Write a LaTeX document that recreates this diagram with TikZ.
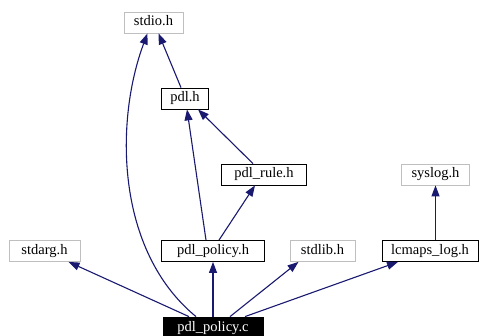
\documentclass[tikz,border=0pt]{standalone}
\usepackage{fontspec}
\setmainfont{Liberation Serif}
\usetikzlibrary{arrows.meta,positioning}
\definecolor{edgeblue}{HTML}{191970}
\definecolor{sysgray}{HTML}{BFBFBF}

\begin{document}
\begin{tikzpicture}[
  x=1pt,y=-1pt,
  font=\fontsize{14.5}{16}\selectfont,
  >={Triangle[length=11pt,width=8pt]},
  dep/.style={->,line width=1.1pt,draw=edgeblue},
  hdr/.style={draw=black,thick,fill=white,inner sep=0pt,
              minimum height=21pt,text height=10pt,text depth=3pt},
  syshdr/.style={hdr,draw=sysgray},
  src/.style={hdr,draw=black,fill=black,text=white}
]
\useasboundingbox (0,0) rectangle (481,336);
\node[syshdr,minimum width=59pt] (stdio) at (153.5,22.5) {stdio.h};
\node[hdr,minimum width=47pt] (pdl) at (185,98.5) {pdl.h};
\node[hdr,minimum width=85pt] (rule) at (264,174.5) {pdl\_rule.h};
\node[syshdr,minimum width=68pt] (syslog) at (435.5,174.5) {syslog.h};
\node[syshdr,minimum width=71pt] (stdarg) at (44.5,251) {stdarg.h};
\node[hdr,minimum width=103pt] (policyh) at (213,251) {pdl\_policy.h};
\node[syshdr,minimum width=65pt] (stdlib) at (322.5,251) {stdlib.h};
\node[hdr,minimum width=96pt] (lcmaps) at (430,251) {lcmaps\_log.h};
\node[src,minimum width=100pt] (policyc) at (213,327.5) {pdl\_policy.c};

\draw[dep] (policyc) -- (stdarg);
\draw[dep] (policyc) -- (policyh);
\draw[dep] ([xshift=17pt]policyc.north) -- ([xshift=-24pt]stdlib.south);
\draw[dep] ([xshift=32pt]policyc.north) -- ([xshift=-32pt]lcmaps.south);
\draw[dep] ([xshift=-17pt]policyc.north) .. controls (115,250) and (115,120)
  .. ([xshift=-6pt]stdio.south);
\draw[dep] ([xshift=-7pt]policyh.north) -- ([xshift=2pt]pdl.south);
\draw[dep] ([xshift=6pt]policyh.north) -- ([xshift=-9pt]rule.south);
\draw[dep] ([xshift=-11pt]rule.north) -- ([xshift=13pt]pdl.south);
\draw[dep] ([xshift=-4pt]pdl.north) -- ([xshift=5pt]stdio.south);
\draw[dep] (lcmaps.north -| syslog.south) -- (syslog.south);
\end{tikzpicture}
\end{document}
